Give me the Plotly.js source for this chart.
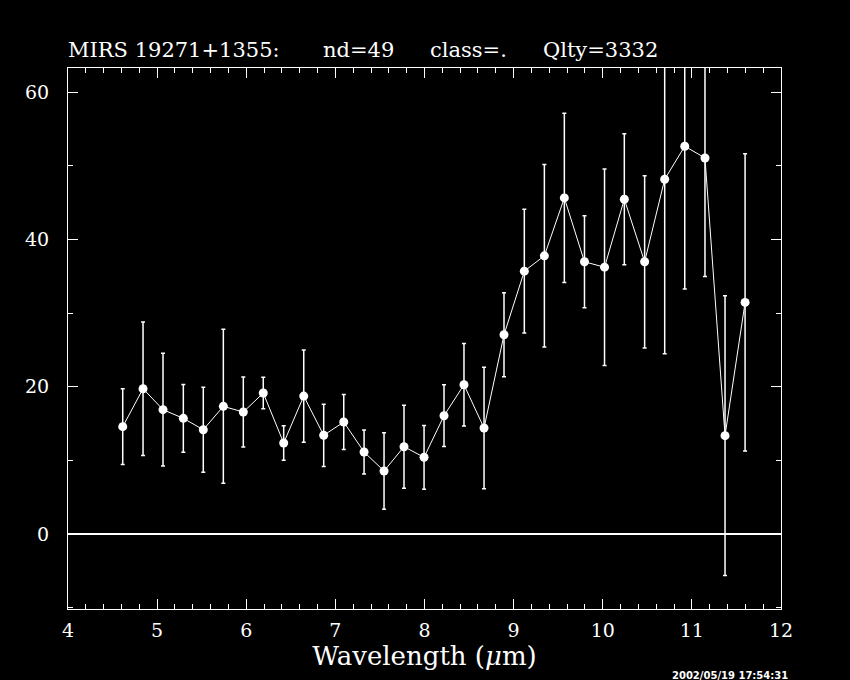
<!DOCTYPE html>
<html>
<head>
<meta charset="utf-8">
<script src="https://cdn.plot.ly/plotly-3.0.1.min.js"></script>
<style>html,body{margin:0;padding:0;background:#000;}#chart{width:850px;height:680px;}</style>
</head>
<body>
<div id="chart"></div>
<script>
const wavelength = [4.614, 4.842, 5.066, 5.294, 5.518, 5.743, 5.967, 6.191, 6.420, 6.645,
                    6.869, 7.094, 7.322, 7.546, 7.770, 7.995, 8.219, 8.443, 8.668, 8.892,
                    9.120, 9.345, 9.569, 9.795, 10.020, 10.242, 10.470, 10.695, 10.920, 11.147,
                    11.372, 11.597];
const flux = [14.57, 19.73, 16.88, 15.70, 14.16, 17.33, 16.56, 19.14, 12.35, 18.73,
              13.40, 15.20, 11.13, 8.55, 11.85, 10.41, 16.06, 20.27, 14.39, 27.06,
              35.70, 37.78, 45.65, 36.97, 36.24, 45.47, 36.97, 48.19, 52.67, 51.08,
              13.35, 31.45];
const fluxErr = [5.15, 9.06, 7.66, 4.60, 5.77, 10.46, 4.75, 2.15, 2.35, 6.27,
                 4.23, 3.73, 3.00, 5.20, 5.63, 4.33, 4.19, 5.60, 8.25, 5.70,
                 8.40, 12.40, 11.50, 6.25, 13.35, 8.90, 11.70, 23.70, 19.40, 16.10,
                 19.00, 20.20];
const titleParts = ["MIRS 19271+1355:", "nd=49", "class=.", "Qlty=3332"];
const titlePartPx = [66, 321, 428, 541];
const xTitle = "Wavelength (<i>μ</i>m)";
const stamp = "2002/05/19 17:54:31";

const serif = "DejaVu Serif, Liberation Serif, serif";
const plotL = 68, plotW = 713, plotT = 68, plotH = 541;

const trace = {
  x: wavelength, y: flux, type: 'scatter', mode: 'lines+markers',
  line: {color: 'white', width: 1},
  marker: {color: 'white', size: 9},
  error_y: {type: 'data', array: fluxErr, visible: true, color: 'white', thickness: 1.5, width: 2},
  hoverinfo: 'skip', showlegend: false
};

const axisCommon = {
  showline: true, linecolor: 'white', linewidth: 1, mirror: 'ticks',
  ticks: 'inside', tickcolor: 'white', tickwidth: 1, ticklen: 10,
  showgrid: false,
  tickfont: {family: serif, size: 19, color: 'white'}
};

const annotations = titleParts.map((t, i) => ({
  text: t, xref: 'paper', yref: 'paper',
  x: (titlePartPx[i] - plotL) / plotW, xanchor: 'left',
  y: 1 + (plotT - 50) / plotH, yanchor: 'middle',
  showarrow: false, font: {family: serif, size: 21, color: 'white'}
}));
annotations.push({
  text: stamp, xref: 'paper', yref: 'paper', x: (790 - plotL) / plotW, xanchor: 'right',
  y: -(668 - plotT - plotH) / plotH, yanchor: 'top', showarrow: false,
  font: {family: 'DejaVu Sans, sans-serif', size: 10, color: 'white', weight: 'bold'}
});

const layout = {
  width: 850, height: 680,
  paper_bgcolor: 'black', plot_bgcolor: 'black',
  margin: {l: 68, r: 69, t: 68, b: 71, pad: 0},
  xaxis: Object.assign({}, axisCommon, {
    range: [4, 12], dtick: 1, tick0: 4, zeroline: false,
    minor: {dtick: 0.2, ticks: 'inside', ticklen: 5, tickcolor: 'white', tickwidth: 1, showgrid: false},
    ticklabelstandoff: 4,
    title: {text: xTitle, standoff: 6, font: {family: serif, size: 26, color: 'white'}}
  }),
  yaxis: Object.assign({}, axisCommon, {
    range: [-10.2, 63.3], dtick: 20, tick0: 0,
    zeroline: true, zerolinecolor: 'white', zerolinewidth: 2,
    minor: {dtick: 10, ticks: 'inside', ticklen: 5, tickcolor: 'white', tickwidth: 1, showgrid: false},
    ticklabelstandoff: 14
  }),
  annotations: annotations
};

Plotly.newPlot('chart', [trace], layout, {displayModeBar: false, staticPlot: true});
</script>
</body>
</html>
